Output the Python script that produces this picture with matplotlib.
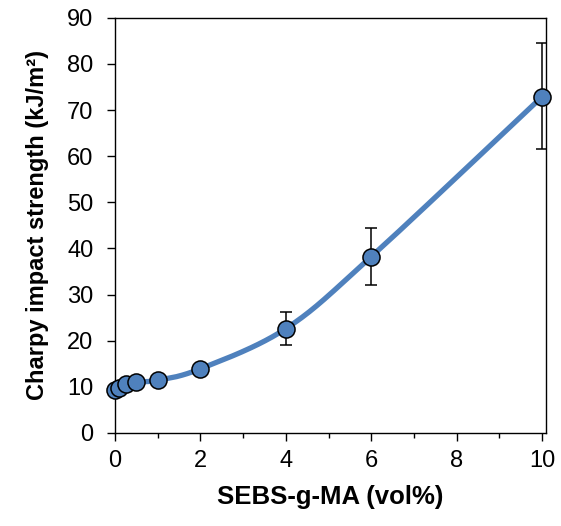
import numpy as np
import matplotlib
matplotlib.use("Agg")
import matplotlib.pyplot as plt
from matplotlib.ticker import MultipleLocator

plt.rcParams["font.family"] = ["Liberation Sans", "DejaVu Sans"]

# SEBS-g-MA content (vol%) and Charpy impact strength (kJ/m^2)
sebs_vol = [0, 0.1, 0.25, 0.5, 1, 2, 4, 6, 10]
impact = [9.3, 9.7, 10.6, 11.1, 11.4, 13.9, 22.6, 38.2, 72.9]
err_low = [0, 0, 0, 0, 0, 0.5, 3.5, 6.2, 11.3]
err_high = [0, 0, 0, 0, 0, 0.5, 3.6, 6.3, 11.6]

BLUE = "#4F81BD"


def smooth_curve(x, y, n=40):
    """Catmull-Rom style smoothing through every point (spreadsheet 'smoothed line')."""
    pts = np.column_stack([x, y]).astype(float)
    padded = np.vstack([pts[0], pts, pts[-1]])
    out = []
    t = np.linspace(0, 1, n)[:, None]
    for i in range(1, len(padded) - 2):
        p0, p1, p2, p3 = padded[i - 1], padded[i], padded[i + 1], padded[i + 2]
        c1 = p1 + (p2 - p0) / 6
        c2 = p2 - (p3 - p1) / 6
        seg = ((1 - t) ** 3) * p1 + 3 * ((1 - t) ** 2) * t * c1 + 3 * (1 - t) * t ** 2 * c2 + t ** 3 * p2
        out.append(seg if i == 1 else seg[1:])
    seg = np.vstack(out)
    return seg[:, 0], seg[:, 1]


fig = plt.figure(figsize=(5.61, 5.26), dpi=100)
ax = fig.add_axes([0.205, 0.177, 0.768, 0.789])

sx, sy = smooth_curve(sebs_vol, impact)
ax.plot(sx, sy, color=BLUE, linewidth=3.8, solid_capstyle="round", zorder=2,
        clip_on=False)
ax.errorbar(sebs_vol, impact, yerr=[err_low, err_high], fmt="none",
            ecolor="black", elinewidth=1.1, capsize=4.3, capthick=1.1, zorder=3)
ax.plot(sebs_vol, impact, "o", markersize=12.3, markerfacecolor=BLUE,
        markeredgecolor="black", markeredgewidth=1.1, zorder=4, clip_on=False)

ax.set_xlim(0, 10.09)
ax.set_ylim(0, 90)
ax.xaxis.set_major_locator(MultipleLocator(2))
ax.xaxis.set_minor_locator(MultipleLocator(1))
ax.yaxis.set_major_locator(MultipleLocator(10))

for s in ax.spines.values():
    s.set_linewidth(1.0)
ax.tick_params(axis="both", which="major", direction="out", length=5.5,
               width=1.0, labelsize=17)
ax.tick_params(axis="x", which="major", pad=7)
ax.tick_params(axis="y", which="major", pad=10)
ax.tick_params(axis="x", which="minor", direction="out", length=3.5, width=1.0)
ax.tick_params(top=False, right=False, which="both")

ax.set_xlabel("SEBS-g-MA (vol%)", fontsize=18.5, fontweight="bold", labelpad=9)
ax.set_ylabel("Charpy impact strength (kJ/m²)", fontsize=17,
              fontweight="bold", labelpad=13)

fig.savefig("out.png", dpi=100)
